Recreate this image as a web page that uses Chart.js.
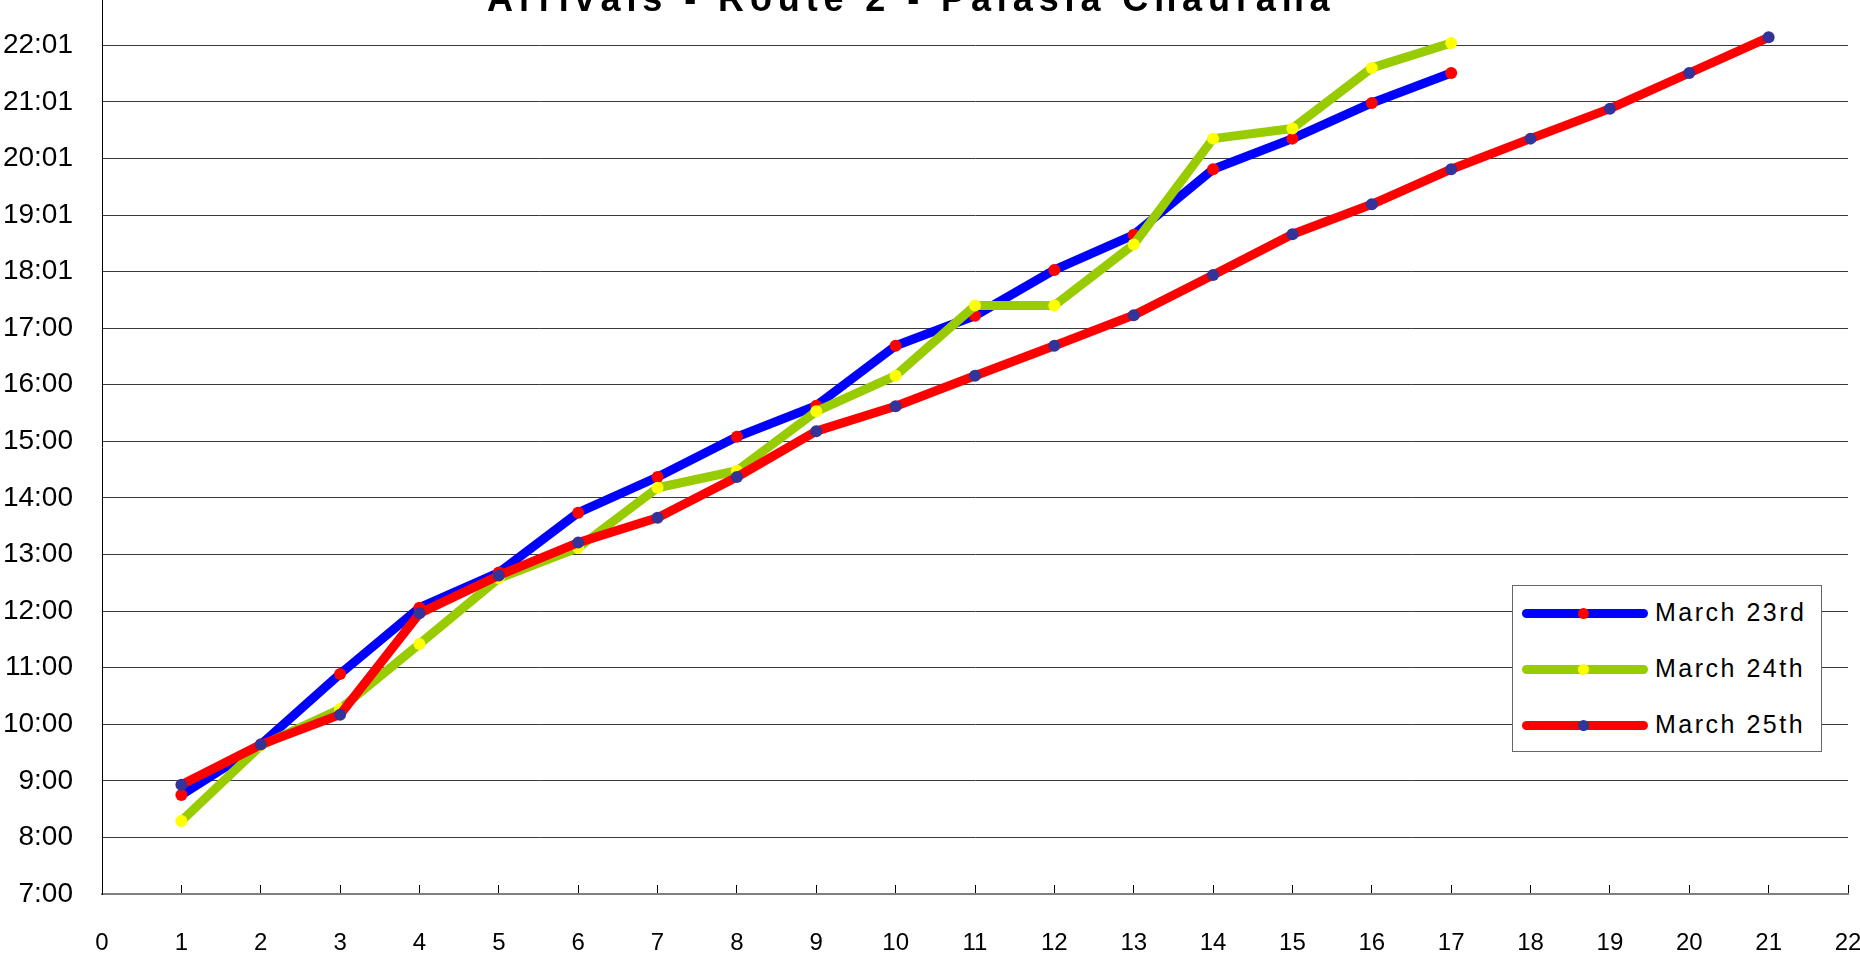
<!DOCTYPE html>
<html>
<head>
<meta charset="utf-8">
<script src="https://cdn.jsdelivr.net/npm/chart.js@4.4.1/dist/chart.umd.min.js"></script>
<style>
  html, body { margin: 0; padding: 0; background: #fff; overflow: hidden; }
  #wrap { position: relative; width: 1860px; height: 964px; }
  #chart { position: absolute; left: 0; top: 0; }
  #title {
    position: absolute; left: 487px; top: -19px;
    font: bold 36px Arial, "Liberation Sans", sans-serif;
    line-height: 36px; letter-spacing: 5.9px; white-space: nowrap; color: #000;
  }
  #legend {
    position: absolute; left: 1512px; top: 585px; width: 310px; height: 167px;
    box-sizing: border-box; border: 1px solid #666; background: #fff;
  }
  .sw { position: absolute; left: 9px; width: 126px; height: 9px; border-radius: 4.5px; }
  .dot { position: absolute; left: 65px; width: 11px; height: 11px; border-radius: 5.5px; }
  .lab {
    position: absolute; left: 142px; height: 30px; line-height: 30px;
    font: 25px Arial, "Liberation Sans", sans-serif; letter-spacing: 2.5px; color: #000; white-space: nowrap;
  }
</style>
</head>
<body>
<div id="wrap">
  <canvas id="chart" width="1860" height="964"></canvas>
  <div id="title">Arrivals - Route 2 - Palasia Chaurana</div>
  <div id="legend"></div>
</div>
<script>
// ---- data (times as decimal hours) ----
const stops = [1, 2, 3, 4, 5, 6, 7, 8, 9, 10, 11, 12, 13, 14, 15, 16, 17, 18, 19, 20, 21];
const xTickValues = [0, 1, 2, 3, 4, 5, 6, 7, 8, 9, 10, 11, 12, 13, 14, 15, 16, 17, 18, 19, 20, 21, 22];
const yTickHours = [7, 8, 9, 10, 11, 12, 13, 14, 15, 16, 17, 18, 19, 20, 21, 22];
const yTickLabels = ['7:00', '8:00', '9:00', '10:00', '11:00', '12:00', '13:00', '14:00', '15:00',
                     '16:00', '17:00', '18:01', '19:01', '20:01', '21:01', '22:01'];
const seriesNames = ['March 23rd', 'March 24th', 'March 25th'];
const march23 = [8.75, 9.64, 10.89, 12.06, 12.68, 13.74, 14.37, 15.08, 15.63, 16.69, 17.22,
                 18.03, 18.65, 19.81, 20.35, 20.98, 21.51];
const march24 = [8.29, 9.62, 10.27, 11.42, 12.58, 13.12, 14.18, 14.48, 15.53, 16.16, 17.40,
                 17.40, 18.48, 20.35, 20.53, 21.60, 22.04];
const march25 = [8.93, 9.64, 10.17, 11.96, 12.63, 13.21, 13.65, 14.37, 15.18, 15.62, 16.16,
                 16.69, 17.23, 17.94, 18.66, 19.19, 19.81, 20.35, 20.88, 21.51, 22.14];

// ---- styles ----
const lineColors = ['#0000FF', '#99CC00', '#FF0000'];
const markColors = ['#FF0000', '#FFFF00', '#333399'];
const drawOrder = [3, 2, 1];
const FONT = 'Arial, "Liberation Sans", sans-serif';

const seriesValues = [march23, march24, march25];
const datasets = seriesValues.map((vals, i) => ({
  label: seriesNames[i],
  data: vals.map((v, j) => ({ x: stops[j], y: v })),
  borderColor: lineColors[i],
  backgroundColor: markColors[i],
  borderWidth: 9,
  borderCapStyle: 'round',
  borderJoinStyle: 'round',
  pointRadius: 6,
  pointBorderWidth: 0,
  pointBackgroundColor: markColors[i],
  pointHoverRadius: 6,
  tension: 0,
  fill: false,
  clip: false,
  order: drawOrder[i]
}));

Chart.defaults.font.family = FONT;
Chart.defaults.color = '#000';

new Chart(document.getElementById('chart'), {
  type: 'line',
  data: { datasets },
  options: {
    responsive: false,
    animation: false,
    devicePixelRatio: 1,
    events: [],
    layout: { autoPadding: false, padding: { left: 0, right: 12, top: 0, bottom: 0 } },
    plugins: { legend: { display: false }, title: { display: false }, tooltip: { enabled: false } },
    scales: {
      x: {
        type: 'linear',
        min: 0, max: 22,
        afterBuildTicks: (s) => { s.ticks = xTickValues.map(v => ({ value: v })); },
        afterFit: (s) => { s.height = 70; s.paddingLeft = 0; s.paddingRight = 0; },
        ticks: { font: { size: 24 }, color: '#000', padding: 44, maxRotation: 0, autoSkip: false },
        grid: { drawOnChartArea: false, drawTicks: true, tickLength: -9, color: '#000', lineWidth: 1 },
        border: { display: true, color: '#808080', width: 2 }
      },
      y: {
        type: 'linear',
        min: 7, max: 22.8,
        afterBuildTicks: (s) => { s.ticks = yTickHours.map(v => ({ value: v })); },
        afterFit: (s) => { s.width = 102; s.paddingTop = 0; s.paddingBottom = 0; },
        ticks: {
          font: { size: 28 }, color: '#000', padding: 29, autoSkip: false,
          callback: (value) => yTickLabels[yTickHours.indexOf(value)]
        },
        grid: { color: '#3a3a3a', lineWidth: 1, drawTicks: false },
        border: { display: true, color: '#000', width: 1 }
      }
    }
  }
});

// ---- legend (HTML, real text) ----
const legend = document.getElementById('legend');
const rowCenters = [27, 83, 139];
seriesNames.forEach((name, i) => {
  const c = rowCenters[i];
  const sw = document.createElement('div');
  sw.className = 'sw'; sw.style.top = (c - 4.5) + 'px'; sw.style.background = lineColors[i];
  const dot = document.createElement('div');
  dot.className = 'dot'; dot.style.top = (c - 5.5) + 'px'; dot.style.background = markColors[i];
  const lab = document.createElement('div');
  lab.className = 'lab'; lab.style.top = (c - 15) + 'px'; lab.textContent = name;
  legend.appendChild(sw); legend.appendChild(dot); legend.appendChild(lab);
});
</script>
</body>
</html>
